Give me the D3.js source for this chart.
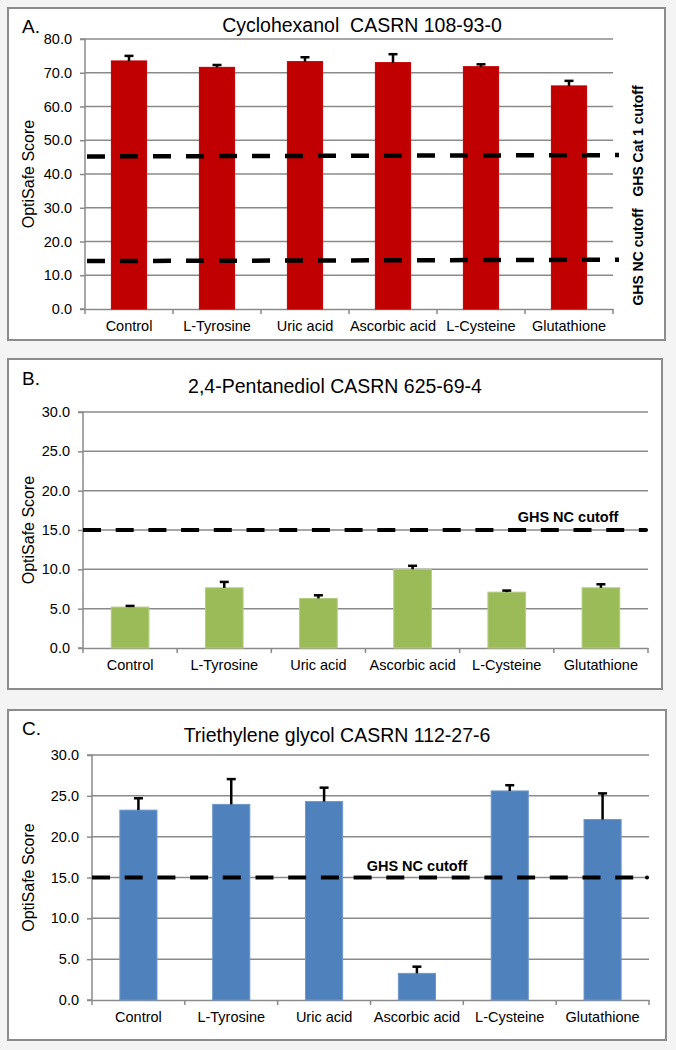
<!DOCTYPE html>
<html>
<head>
<meta charset="utf-8">
<script src="https://cdn.jsdelivr.net/npm/d3@7"></script>
<style>
  html, body { margin: 0; padding: 0; background: #f4f4f4; }
  svg { display: block; }
  text { font-family: "Liberation Sans", Arial, sans-serif; fill: #000; white-space: pre; }
</style>
</head>
<body>
<svg id="chart" width="676" height="1050"></svg>
<script>
// ---------------- DATA ----------------
const categories = ["Control", "L-Tyrosine", "Uric acid", "Ascorbic acid", "L-Cysteine", "Glutathione"];

const titleA = "Cyclohexanol  CASRN 108-93-0";
const valuesA = [73.5, 71.6, 73.3, 73.0, 71.8, 66.1];
const errorsA = [1.5, 0.7, 1.3, 2.5, 0.7, 1.5];
const ticksA = [0, 10, 20, 30, 40, 50, 60, 70, 80];
const cutoffCat1A = [45.2, 45.6];   // start, end (line drifts slightly)
const cutoffNCA = [14.2, 14.6];

const titleB = "2,4-Pentanediol CASRN 625-69-4";
const valuesB = [5.2, 7.65, 6.3, 10.0, 7.1, 7.65];
const errorsB = [0.15, 0.75, 0.4, 0.45, 0.2, 0.45];
const ticksB = [0, 5, 10, 15, 20, 25, 30];
const cutoffB = 15;

const titleC = "Triethylene glycol CASRN 112-27-6";
const valuesC = [23.25, 23.95, 24.3, 3.26, 25.6, 22.1];
const errorsC = [1.45, 3.1, 1.7, 0.82, 0.7, 3.2];
const ticksC = [0, 5, 10, 15, 20, 25, 30];
const cutoffC = 15;

const yLabel = "OptiSafe Score";
const cat1Label = "GHS Cat 1 cutoff";
const ncLabel = "GHS NC cutoff";

// ---------------- DRAW ----------------
const svg = d3.select("#chart");
const gridColor = "#8a8a8a";

function panel(cfg) {
  const g = svg.append("g");
  g.append("rect")
    .attr("x", cfg.box[0]).attr("y", cfg.box[1])
    .attr("width", cfg.box[2]).attr("height", cfg.box[3])
    .attr("fill", "#fff").attr("stroke", "#8c8c8c").attr("stroke-width", 2);

  const x = d3.scaleBand().domain(categories).range([cfg.left, cfg.right]).paddingInner(0.6).paddingOuter(0.3);
  const y = d3.scaleLinear().domain([0, cfg.max]).range([cfg.bottom, cfg.top]);

  // gridlines
  g.append("g").selectAll("line").data(cfg.ticks.filter(t => t > 0)).join("line")
    .attr("x1", cfg.left).attr("x2", cfg.right)
    .attr("y1", d => y(d)).attr("y2", d => y(d))
    .attr("stroke", gridColor).attr("stroke-width", 1.5);

  // y axis
  const ya = g.append("g").attr("transform", `translate(${cfg.left},0)`)
    .call(d3.axisLeft(y).tickValues(cfg.ticks).tickFormat(d3.format(".1f")).tickSize(5).tickPadding(8));
  ya.selectAll("path,line").attr("stroke", gridColor).attr("stroke-width", 1.5);
  ya.select(".domain").attr("d", `M-5,${cfg.top}H0V${cfg.bottom}H-5`);
  ya.selectAll("text").attr("font-size", "14.5px").attr("font-family", "Liberation Sans, Arial, sans-serif").attr("fill", "#000");

  // x axis
  const xa = g.append("g").attr("transform", `translate(0,${cfg.bottom})`)
    .call(d3.axisBottom(x).tickSize(0).tickPadding(0));
  xa.select(".domain").attr("stroke", gridColor).attr("stroke-width", 1.5);
  xa.selectAll(".tick text").attr("y", 22).attr("dy", 0)
    .attr("font-size", "14.5px").attr("font-family", "Liberation Sans, Arial, sans-serif").attr("fill", "#000");
  // category boundary ticks
  const step = x.step();
  const bounds = d3.range(categories.length + 1).map(i => cfg.left + i * step);
  g.append("g").selectAll("line").data(bounds).join("line")
    .attr("x1", d => d).attr("x2", d => d)
    .attr("y1", cfg.bottom).attr("y2", cfg.bottom + 5)
    .attr("stroke", gridColor).attr("stroke-width", 1.5);

  // bars
  g.append("g").selectAll("rect").data(cfg.values).join("rect")
    .attr("x", (d, i) => x(categories[i]))
    .attr("y", d => y(d))
    .attr("width", x.bandwidth())
    .attr("height", d => y(0) - y(d))
    .attr("fill", cfg.color)
    .attr("stroke", cfg.edge).attr("stroke-width", 1);

  // error bars (upper only)
  const eg = g.append("g");
  cfg.values.forEach((v, i) => {
    const cx = x(categories[i]) + x.bandwidth() / 2;
    eg.append("line").attr("x1", cx).attr("x2", cx)
      .attr("y1", y(v)).attr("y2", y(v + cfg.errors[i]))
      .attr("stroke", "#000").attr("stroke-width", 2.5);
    eg.append("line").attr("x1", cx - 4.5).attr("x2", cx + 4.5)
      .attr("y1", y(v + cfg.errors[i])).attr("y2", y(v + cfg.errors[i]))
      .attr("stroke", "#000").attr("stroke-width", 2.5);
  });

  // titles
  g.append("text").attr("x", cfg.titleX).attr("y", cfg.titleY)
    .attr("text-anchor", "middle").attr("font-size", "19.5px").text(cfg.title);
  g.append("text").attr("x", cfg.box[0] + 14).attr("y", cfg.letterY)
    .attr("font-size", "19px").text(cfg.letter);

  // y label
  const ymid = (cfg.top + cfg.bottom) / 2;
  g.append("text").attr("transform", `translate(34,${ymid}) rotate(-90)`)
    .attr("text-anchor", "middle").attr("font-size", "16px").text(yLabel);

  return { g, x, y };
}

// Panel A
const A = panel({
  box: [8, 8, 657, 332], left: 85, right: 613, top: 39, bottom: 309, max: 80,
  ticks: ticksA, values: valuesA, errors: errorsA, color: "#c00000", edge: "#c00000",
  title: titleA, titleX: 362, titleY: 32, letter: "A.", letterY: 33
});
[[cutoffCat1A, cat1Label], [cutoffNCA, ncLabel]].forEach(([c, lab]) => {
  A.g.append("line").attr("x1", 87).attr("x2", 619)
    .attr("y1", A.y(c[0])).attr("y2", A.y(c[1]))
    .attr("stroke", "#000").attr("stroke-width", 4.5).attr("stroke-dasharray", "18,15");
});
A.g.append("text").attr("transform", `translate(643,141) rotate(-90)`)
  .attr("text-anchor", "middle").attr("font-size", "14px").attr("font-weight", "bold").text(cat1Label);
A.g.append("text").attr("transform", `translate(643,257) rotate(-90)`)
  .attr("text-anchor", "middle").attr("font-size", "14px").attr("font-weight", "bold").text(ncLabel);

// Panel B
const B = panel({
  box: [8, 359, 654, 330], left: 83, right: 648, top: 412, bottom: 648, max: 30,
  ticks: ticksB, values: valuesB, errors: errorsB, color: "#9bbb59", edge: "#b3cd7e",
  title: titleB, titleX: 335, titleY: 393, letter: "B.", letterY: 385
});
B.g.append("line").attr("x1", 83).attr("x2", 646)
  .attr("y1", B.y(cutoffB)).attr("y2", B.y(cutoffB))
  .attr("stroke", "#000").attr("stroke-width", 4).attr("stroke-dasharray", "18,14.7");
B.g.append("circle").attr("cx", 646).attr("cy", B.y(cutoffB)).attr("r", 2).attr("fill", "#000");
B.g.append("text").attr("x", 568).attr("y", B.y(cutoffB) - 8)
  .attr("text-anchor", "middle").attr("font-size", "14.5px").attr("font-weight", "bold").text(ncLabel);

// Panel C
const C = panel({
  box: [8, 710, 658, 330], left: 92, right: 649, top: 755, bottom: 1000, max: 30,
  ticks: ticksC, values: valuesC, errors: errorsC, color: "#4f81bd", edge: "#6f98cb",
  title: titleC, titleX: 337, titleY: 742, letter: "C.", letterY: 735
});
C.g.append("line").attr("x1", 92).attr("x2", 647)
  .attr("y1", C.y(cutoffC)).attr("y2", C.y(cutoffC))
  .attr("stroke", "#000").attr("stroke-width", 4).attr("stroke-dasharray", "18,14.7");
C.g.append("circle").attr("cx", 647).attr("cy", C.y(cutoffC)).attr("r", 2).attr("fill", "#000");
C.g.append("text").attr("x", 417).attr("y", C.y(cutoffC) - 7)
  .attr("text-anchor", "middle").attr("font-size", "14.5px").attr("font-weight", "bold").text(ncLabel);
</script>
</body>
</html>
